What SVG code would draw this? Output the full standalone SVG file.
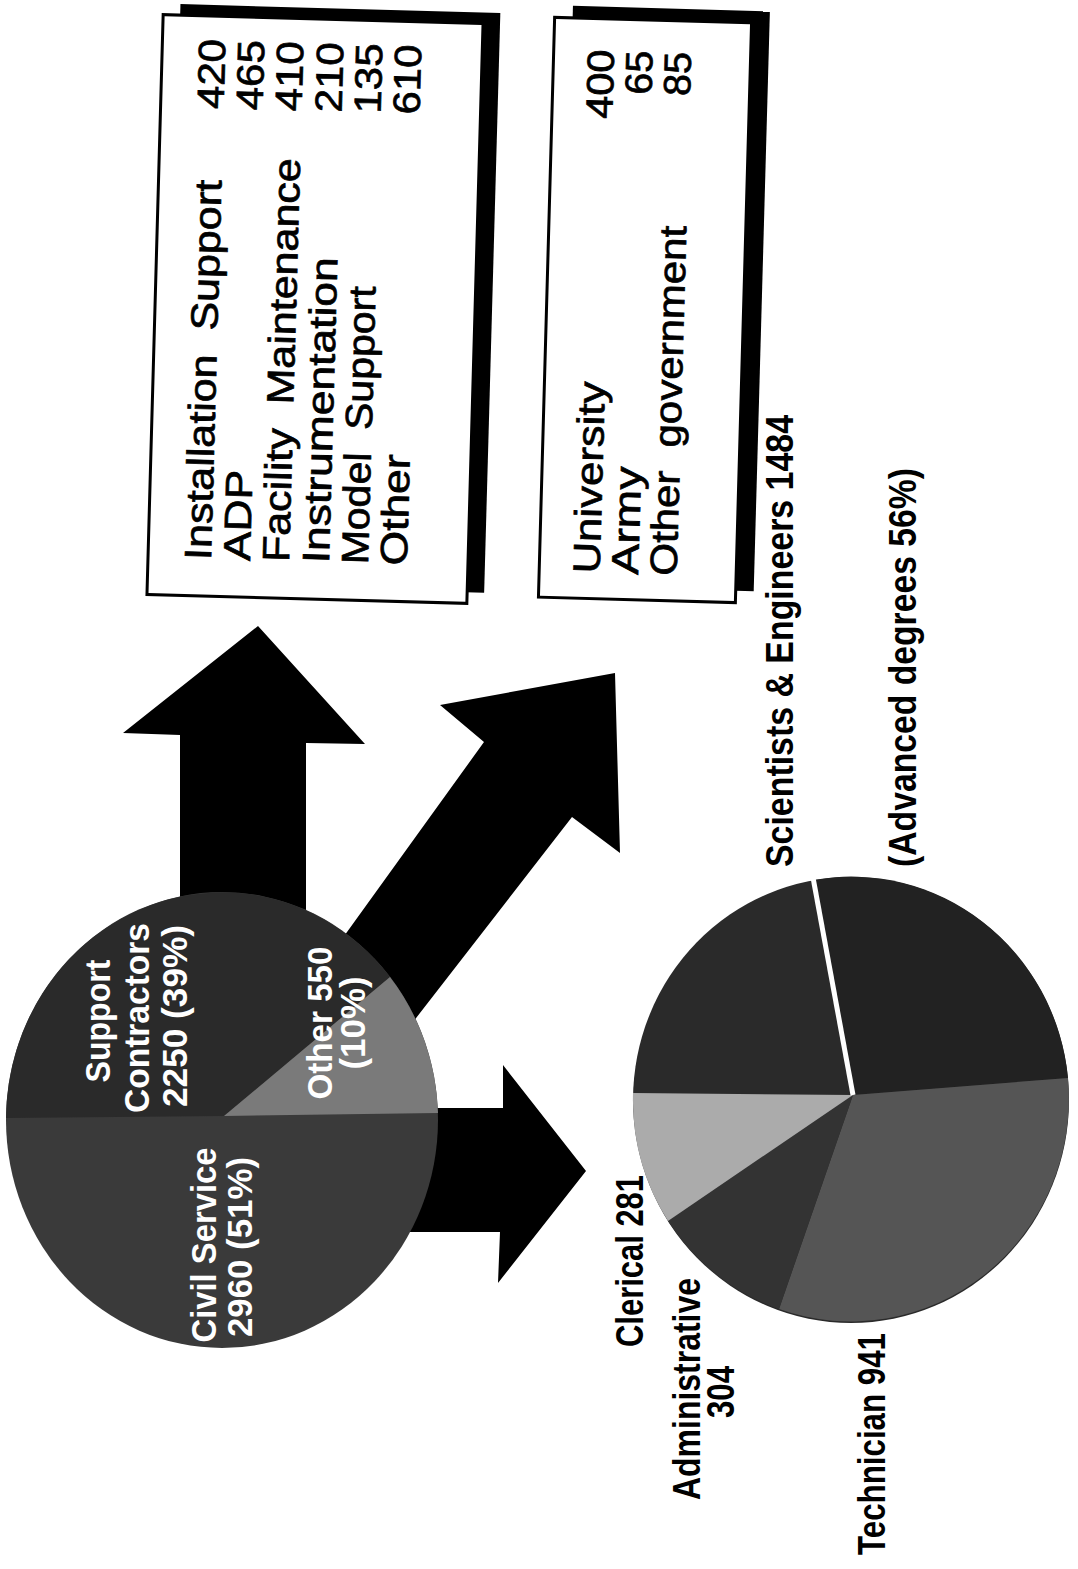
<svg xmlns="http://www.w3.org/2000/svg" width="1078" height="1569" viewBox="0 0 1078 1569">
<style>
.bg{fill:#fff}
.arrow{fill:#000}
.shadow{fill:#000}
.box{fill:#fff;stroke:#000;stroke-width:3}
.bt{font-family:"Liberation Sans",Arial,sans-serif;font-size:38px;fill:#000;stroke:#000;stroke-width:0.7;white-space:pre}
.pw{font-family:"Liberation Sans",Arial,sans-serif;font-weight:bold;font-size:35px;fill:#fff}
.pl{font-family:"Liberation Sans",Arial,sans-serif;font-weight:bold;font-size:39px;fill:#000}
</style>
<rect class="bg" x="0" y="0" width="1078" height="1569"/>

<g id="connectors">
  <polygon id="arrow-up" class="arrow" points="180,990 180,735 123,733 258,626 365,744 306,743 306,990"/>
  <polygon id="arrow-diag" class="arrow" points="298,1000 484,742 440,705 615,673 620,853 572,817 368,1080"/>
  <polygon id="arrow-right" class="arrow" points="380,1108 503,1108 503,1065 586,1171 498,1283 500,1232 380,1232"/>
</g>

<g id="pie-workforce">
  <ellipse cx="222" cy="1120" rx="216" ry="228" fill="#3a3a3a"/>
  <path d="M224,1116 L6,1118 A216,228 0 0 1 390,977 Z" fill="#2a2a2a"/>
  <path d="M224,1116 L390,977 A216,228 0 0 1 438,1113 Z" fill="#7a7a7a"/>
  <text class="pw" transform="translate(110,1021) rotate(-90)" text-anchor="middle" textLength="123" lengthAdjust="spacingAndGlyphs">Support</text>
  <text class="pw" transform="translate(149,1018) rotate(-90)" text-anchor="middle" textLength="190" lengthAdjust="spacingAndGlyphs">Contractors</text>
  <text class="pw" transform="translate(187,1016) rotate(-90)" text-anchor="middle" textLength="182" lengthAdjust="spacingAndGlyphs">2250 (39%)</text>
  <text class="pw" transform="translate(216,1245) rotate(-90)" text-anchor="middle" textLength="195" lengthAdjust="spacingAndGlyphs">Civil Service</text>
  <text class="pw" transform="translate(252,1247) rotate(-90)" text-anchor="middle" textLength="180" lengthAdjust="spacingAndGlyphs">2960 (51%)</text>
  <text class="pw" transform="translate(332,1023) rotate(-90)" text-anchor="middle" textLength="153" lengthAdjust="spacingAndGlyphs">Other 550</text>
  <text class="pw" transform="translate(365,1023) rotate(-90)" text-anchor="middle" textLength="93" lengthAdjust="spacingAndGlyphs">(10%)</text>
</g>

<g id="pie-civil">
  <ellipse cx="851" cy="1100" rx="218" ry="223" fill="#2a2a2a"/>
  <path d="M853,1095 L813,880 A218,223 0 0 1 1068,1078 Z" fill="#222"/>
  <path d="M853,1095 L1068,1078 A218,223 0 0 1 779,1309 Z" fill="#555"/>
  <path d="M853,1095 L779,1309 A218,223 0 0 1 668,1221 Z" fill="#333"/>
  <path d="M853,1095 L668,1221 A218,223 0 0 1 633,1093 Z" fill="#ababab"/>
  <line x1="853" y1="1095" x2="812" y2="872" stroke="#fff" stroke-width="5"/>
  <text class="pl" transform="translate(793,867) rotate(-90)" textLength="452" lengthAdjust="spacingAndGlyphs">Scientists &amp; Engineers 1484</text>
  <text class="pl" transform="translate(916,867) rotate(-90)" textLength="399" lengthAdjust="spacingAndGlyphs">(Advanced degrees 56%)</text>
  <text class="pl" transform="translate(643,1347) rotate(-90)" textLength="172" lengthAdjust="spacingAndGlyphs">Clerical 281</text>
  <text class="pl" transform="translate(700,1389) rotate(-90)" text-anchor="middle" textLength="222" lengthAdjust="spacingAndGlyphs">Administrative</text>
  <text class="pl" transform="translate(734,1392) rotate(-90)" text-anchor="middle" textLength="52" lengthAdjust="spacingAndGlyphs">304</text>
  <text class="pl" transform="translate(885,1555) rotate(-90)" textLength="222" lengthAdjust="spacingAndGlyphs">Technician 941</text>
</g>

<g id="box-contractors" transform="rotate(1.6 315 309)">
  <rect class="shadow" x="172" y="8" width="320" height="580"/>
  <rect class="box" x="155" y="19" width="320" height="580"/>
  <text class="bt" transform="translate(218,563) rotate(-90)" textLength="380" lengthAdjust="spacingAndGlyphs">Installation  Support</text>
  <text class="bt" transform="translate(257,563) rotate(-90)" textLength="91" lengthAdjust="spacingAndGlyphs">ADP</text>
  <text class="bt" transform="translate(296,563) rotate(-90)" textLength="404" lengthAdjust="spacingAndGlyphs">Facility  Maintenance</text>
  <text class="bt" transform="translate(336,563) rotate(-90)" textLength="306" lengthAdjust="spacingAndGlyphs">Instrumentation</text>
  <text class="bt" transform="translate(375,563) rotate(-90)" textLength="278" lengthAdjust="spacingAndGlyphs">Model  Support</text>
  <text class="bt" transform="translate(414,563) rotate(-90)" textLength="111" lengthAdjust="spacingAndGlyphs">Other</text>
  <text class="bt" transform="translate(218,42) rotate(-90)" text-anchor="end" textLength="70" lengthAdjust="spacingAndGlyphs">420</text>
  <text class="bt" transform="translate(257,42) rotate(-90)" text-anchor="end" textLength="70" lengthAdjust="spacingAndGlyphs">465</text>
  <text class="bt" transform="translate(296,42) rotate(-90)" text-anchor="end" textLength="70" lengthAdjust="spacingAndGlyphs">410</text>
  <text class="bt" transform="translate(336,42) rotate(-90)" text-anchor="end" textLength="70" lengthAdjust="spacingAndGlyphs">210</text>
  <text class="bt" transform="translate(375,42) rotate(-90)" text-anchor="end" textLength="70" lengthAdjust="spacingAndGlyphs">135</text>
  <text class="bt" transform="translate(414,42) rotate(-90)" text-anchor="end" textLength="70" lengthAdjust="spacingAndGlyphs">610</text>
</g>

<g id="box-other" transform="rotate(1.6 645 310)">
  <rect class="shadow" x="564.5" y="8" width="197" height="580"/>
  <rect class="box" x="546.5" y="20" width="197" height="580"/>
  <text class="bt" transform="translate(607,575) rotate(-90)" textLength="192" lengthAdjust="spacingAndGlyphs">University</text>
  <text class="bt" transform="translate(645.5,575) rotate(-90)" textLength="108" lengthAdjust="spacingAndGlyphs">Army</text>
  <text class="bt" transform="translate(684,575) rotate(-90)" textLength="350" lengthAdjust="spacingAndGlyphs">Other  government</text>
  <text class="bt" transform="translate(607,51) rotate(-90)" text-anchor="end" textLength="69" lengthAdjust="spacingAndGlyphs">400</text>
  <text class="bt" transform="translate(645.5,51) rotate(-90)" text-anchor="end" textLength="44" lengthAdjust="spacingAndGlyphs">65</text>
  <text class="bt" transform="translate(684,51) rotate(-90)" text-anchor="end" textLength="44" lengthAdjust="spacingAndGlyphs">85</text>
</g>
</svg>
